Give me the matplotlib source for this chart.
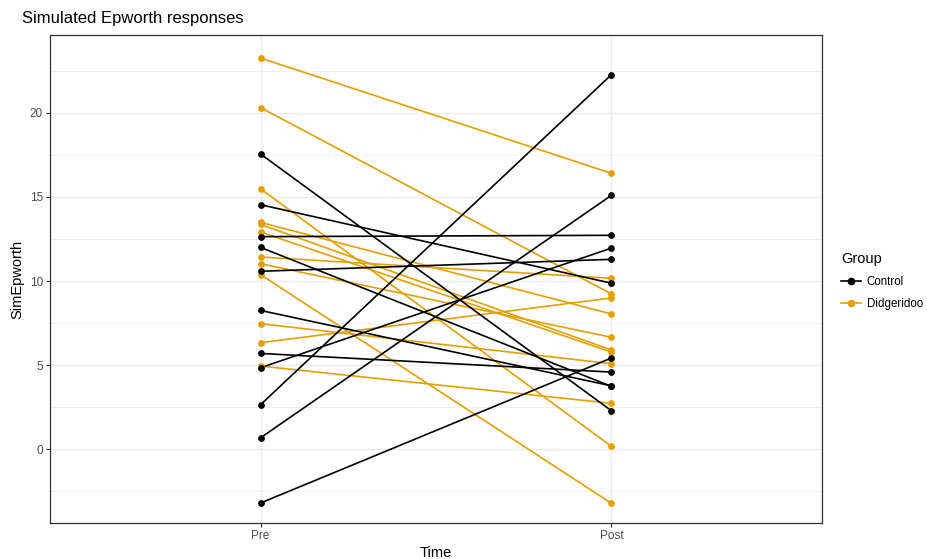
import matplotlib
matplotlib.use("Agg")
import matplotlib.pyplot as plt
from matplotlib.lines import Line2D

plt.rcParams['font.family'] = ['Liberation Sans', 'DejaVu Sans']

times = ["Pre", "Post"]
groups = ["Control", "Didgeridoo"]
colors = {"Control": "#000000", "Didgeridoo": "#E69F00"}

control_pre = [17.56, 14.54, 12.64, 12.00, 10.58, 8.25, 5.69, 4.84, 2.64, 0.67, -3.21]
control_post = [2.28, 9.87, 12.72, 3.73, 11.29, 3.76, 4.58, 11.96, 22.28, 15.10, 5.42]

didg_pre = [23.27, 20.32, 15.49, 13.49, 13.37, 12.92, 11.43, 11.03, 10.38, 7.46, 6.33, 4.94]
didg_post = [16.41, 9.23, 0.16, 8.04, 5.89, 5.77, 10.16, 6.65, -3.23, 5.08, 8.99, 2.72]

title = "Simulated Epworth responses"
xlabel = "Time"
ylabel = "SimEpworth"
yticks = [0, 5, 10, 15, 20]
yminor = [-2.5, 2.5, 7.5, 12.5, 17.5, 22.5]

W, H = 928, 559
fig = plt.figure(figsize=(W / 100, H / 100), dpi=100)
ax = fig.add_axes([50 / W, (H - 523) / H, 772 / W, 488 / H])

xpos = [1, 2]
data = {"Didgeridoo": (didg_pre, didg_post), "Control": (control_pre, control_post)}
for g in ["Didgeridoo", "Control"]:
    pre, post = data[g]
    for a, b in zip(pre, post):
        ax.plot(xpos, [a, b], color=colors[g], lw=1.2, zorder=3, solid_capstyle='butt')
for g in ["Didgeridoo", "Control"]:
    pre, post = data[g]
    ax.scatter([1] * len(pre), pre, s=24, color=colors[g], zorder=4, linewidths=0)
    ax.scatter([2] * len(post), post, s=24, color=colors[g], zorder=4, linewidths=0)

ax.set_ylim(-4.40, 24.64)
ax.set_xlim(0.4, 2.6)

ax.set_xticks(xpos)
ax.set_xticklabels(times)
ax.set_yticks(yticks)
ax.set_yticks(yminor, minor=True)
ax.grid(True, which='major', color='#EBEBEB', lw=1.0, zorder=0)
ax.grid(True, which='minor', axis='y', color='#EBEBEB', lw=0.5, zorder=0)
ax.set_axisbelow(True)
ax.tick_params(which='major', length=3, width=0.8, color='#333333', labelcolor='#4D4D4D', labelsize=8.5, pad=2)
ax.tick_params(which='minor', length=0)
for s in ax.spines.values():
    s.set_color('#333333')
    s.set_linewidth(0.9)

ax.set_xlabel(xlabel, fontsize=10.5, labelpad=3)
ax.set_ylabel(ylabel, fontsize=10.5, labelpad=4)
fig.text(22 / W, 1 - 19 / H, title, fontsize=12, va='center', ha='left')

handles = [Line2D([0], [0], color=colors[g], lw=1.2, marker='o', markersize=4.5) for g in groups]
leg = fig.legend(handles, groups, title="Group", loc='upper left',
                 bbox_to_anchor=(831 / W, 1 - 242 / H), frameon=False,
                 fontsize=8.3, title_fontsize=10.5, handlelength=1.7, handletextpad=0.5,
                 labelspacing=0.85, alignment='left')

fig.savefig("out.png", dpi=100)
